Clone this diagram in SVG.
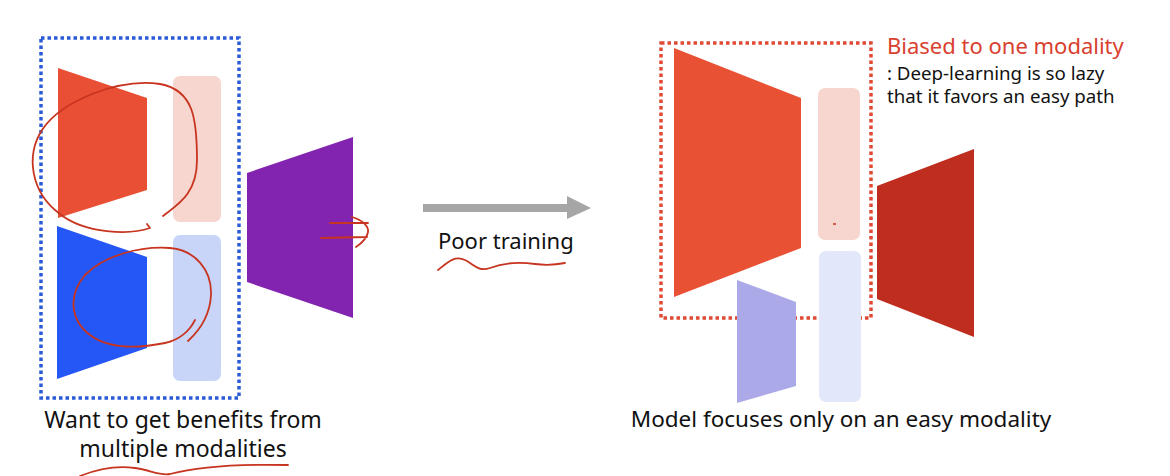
<svg xmlns="http://www.w3.org/2000/svg" width="1170" height="476" viewBox="0 0 1170 476">
<style>
.t{font-family:"Noto Sans","Noto Sans CJK KR",sans-serif;fill:#111;}
.ink{fill:none;stroke:#C7341F;stroke-width:1.8;stroke-linecap:round;stroke-linejoin:round;}
</style>
<rect width="1170" height="476" fill="#fff"/>
<g id="left-group">
<rect x="41" y="38" width="198" height="360" fill="none" stroke="#2B5BD6" stroke-width="3.5" stroke-dasharray="3.5 3"/>
</g>
<g id="red-encoder"><polygon points="58,68 147,98 147,190 58,218" fill="#E94F35"/></g>
<g id="red-feature"><rect x="173" y="76" width="48" height="146" rx="7" fill="#F7D6D0"/></g>
<g id="blue-encoder"><polygon points="57,226 147,257 147,348 57,379" fill="#2457F5"/></g>
<g id="blue-feature"><rect x="173" y="235" width="48" height="146" rx="7" fill="#C9D5F8"/></g>
<g id="fusion-head"><polygon points="247,173 353,137 353,318 247,282" fill="#8224B0"/></g>
<g id="annotations-left">
<path class="ink" d="M163,216 C175,206 197,196 197,160 C197,120 194,90 160,84 C120,78 62,100 42,130 C26,155 30,192 60,214 C85,234 130,235 150,228 L147,224"/>
<path class="ink" d="M195,320 C190,330 180,340 165,343 C140,348 110,350 90,335 C70,320 68,295 85,275 C105,255 140,246 170,248 C195,250 212,270 211,295 C210,315 200,330 188,341"/>
<path class="ink" d="M330,223 L368,223 M321,238 L367,237 M352,217 C362,220 369,226 368,232 C367,238 362,243 356,247"/>
<path class="ink" d="M438,270 C448,262 455,255 465,260 C475,265 478,272 490,268 C505,262 520,262 535,264 C550,266 560,264 565,263"/>
<path class="ink" d="M80,476 C95,470 115,465 135,468 C150,470 160,476 170,474 C200,466 240,464 288,465"/>
</g>
<g id="connectors">
<polygon points="423,204 567,204 567,196 591,208 567,219 567,212 423,212" fill="#A6A6A6"/>
</g>
<g id="right-group">
<rect x="661" y="43" width="210" height="275" fill="none" stroke="#DE4A33" stroke-width="3.5" stroke-dasharray="3.5 3"/>
</g>
<g id="red-encoder-2"><polygon points="674,48 801,98 801,248 674,297" fill="#E95135"/></g>
<g id="red-feature-2"><rect x="818" y="88" width="42" height="152" rx="7" fill="#F7D6D0"/><path d="M833,224 L836,224" stroke="#C7341F" stroke-width="1.5"/></g>
<g id="blue-encoder-2"><polygon points="737,280 796,302 796,386 737,403" fill="#ABA9E8"/></g>
<g id="blue-feature-2"><rect x="819" y="251" width="42" height="151" rx="7" fill="#E2E8FA"/></g>
<g id="fusion-head-2"><polygon points="877,186 974,149 974,337 877,299" fill="#BE2D1E"/></g>
<g id="labels">
<text class="t" x="438" y="249" font-size="22">Poor training</text>
<text class="t" x="887" y="54" font-size="22" style="fill:#D9412F">Biased to one modality</text>
<text class="t" x="887" y="80" font-size="18.7">: Deep-learning is so lazy</text>
<text class="t" x="887" y="103" font-size="18.7">that it favors an easy path</text>
<text class="t" x="183" y="428" font-size="23" text-anchor="middle">Want to get benefits from</text>
<text class="t" x="183" y="457" font-size="23" text-anchor="middle">multiple modalities</text>
<text class="t" x="841" y="427" font-size="22.5" text-anchor="middle">Model focuses only on an easy modality</text>
</g>
</svg>
